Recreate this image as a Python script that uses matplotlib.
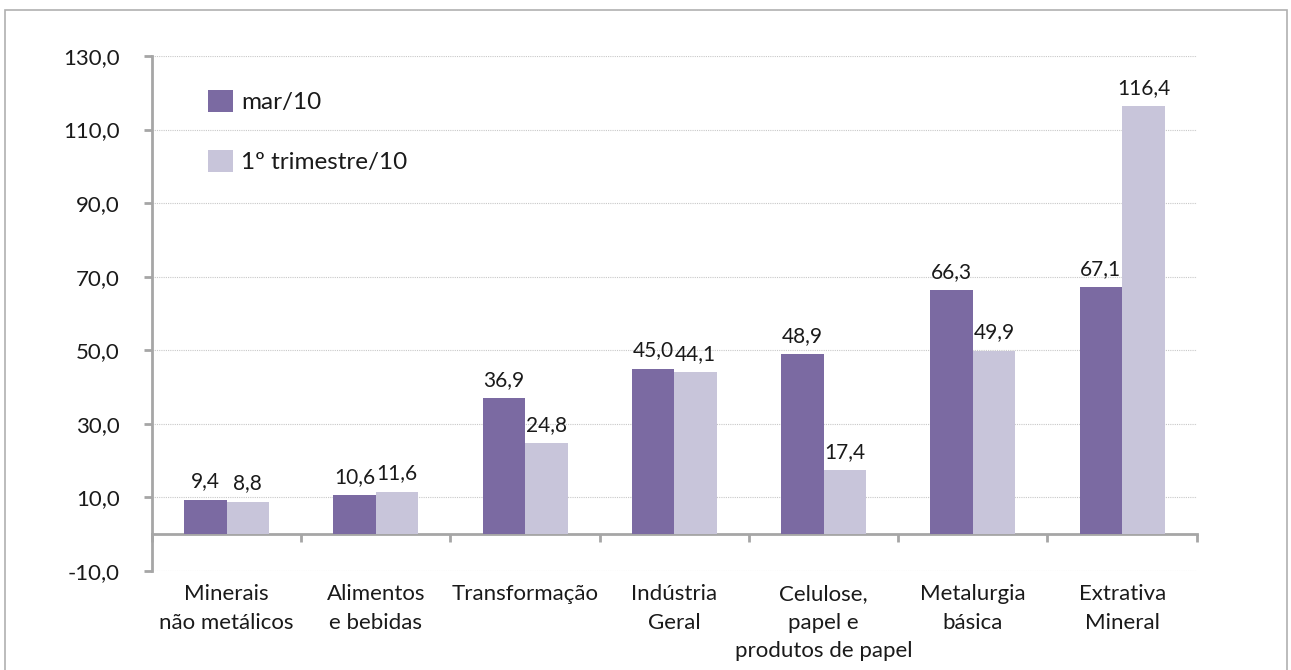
import matplotlib.pyplot as plt
from matplotlib.patches import Rectangle
import numpy as np

categories = ["Minerais\nnão metálicos", "Alimentos\ne bebidas", "Transformação",
              "Indústria\nGeral", "Celulose,\npapel e\nprodutos de papel",
              "Metalurgia\nbásica", "Extrativa\nMineral"]
mar10 = [9.4, 10.6, 36.9, 45.0, 48.9, 66.3, 67.1]
tri10 = [8.8, 11.6, 24.8, 44.1, 17.4, 49.9, 116.4]
yticks = [-10, 10, 30, 50, 70, 90, 110, 130]

c1 = "#7B6AA2"
c2 = "#C8C5DA"
gray = "#A6A6A6"
txt = "#1A1A1A"

plt.rcParams['font.family'] = ['Lato', 'DejaVu Sans']

fig = plt.figure(figsize=(12.91, 6.70), dpi=100)
ax = fig.add_axes([0.1177, 0.1478, 0.8093, 0.7686])

# outer frame
fig.patches.append(Rectangle((0.004, -0.05), 0.993, 1.035, transform=fig.transFigure,
                             fill=False, edgecolor="#B0B0B0", lw=1.2))

x = np.arange(len(categories))
w = 0.285
b1 = ax.bar(x - w / 2, mar10, w, color=c1, label="mar/10", zorder=3)
b2 = ax.bar(x + w / 2, tri10, w, color=c2, label="1º trimestre/10", zorder=3)

for bars, vals in ((b1, mar10), (b2, tri10)):
    for r, v in zip(bars, vals):
        ax.annotate(f"{v:.1f}".replace(".", ","), (r.get_x() + r.get_width() / 2, v),
                    xytext=(0, 6), textcoords="offset points", ha="center", va="bottom",
                    fontsize=15, color=txt)

ax.set_xlim(-0.5, len(categories) - 0.5)
ax.set_ylim(-10, 130)
ax.set_yticks(yticks)
ax.set_yticklabels([f"{t:.1f}".replace(".", ",") for t in yticks], fontsize=16, color=txt)
ax.yaxis.grid(True, linestyle=(0, (1, 1)), color="#C8C8C8", lw=0.8, zorder=0)

for s in ("top", "right"):
    ax.spines[s].set_visible(False)
ax.spines["left"].set_color(gray)
ax.spines["left"].set_linewidth(2)
ax.spines["bottom"].set_position(("data", 0))
ax.spines["bottom"].set_color(gray)
ax.spines["bottom"].set_linewidth(2)
ax.tick_params(axis="y", length=6, width=2, color=gray, pad=17)
ax.set_xticks(np.arange(-0.5, len(categories) + 0.5, 1))
ax.set_xticklabels([])
ax.tick_params(axis="x", length=6, width=2, color=gray, direction="out")

for i, c in enumerate(categories):
    ax.text(i, -0.025, c, transform=ax.get_xaxis_transform(), ha="center", va="top",
            fontsize=16, color=txt, linespacing=1.55)

leg = ax.legend(loc="upper left", bbox_to_anchor=(0.033, 0.976), frameon=False, fontsize=17.5,
                handlelength=1.0, handleheight=1.0, labelspacing=1.5, handletextpad=0.35,
                labelcolor=txt)

fig.savefig("out.png", dpi=100)
